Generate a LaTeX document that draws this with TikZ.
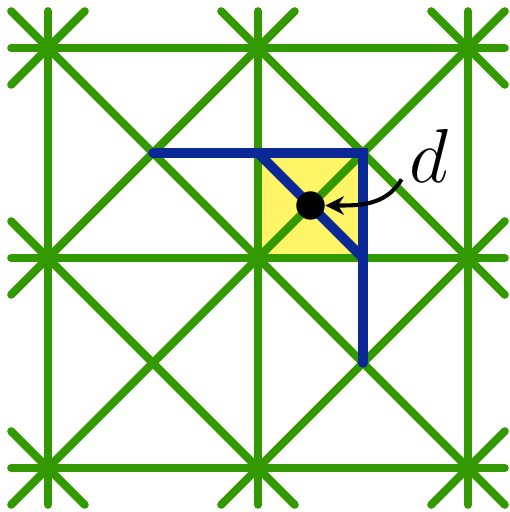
\documentclass[tikz,border=0pt]{standalone}
\usetikzlibrary{arrows.meta}
\definecolor{leaf}{RGB}{51,153,0}
\definecolor{navy}{RGB}{10,40,150}
\definecolor{lemon}{RGB}{255,245,102}
\begin{document}
\begin{tikzpicture}[
    lattice/.style={leaf, line width=2.2pt, line cap=round},
    route/.style={navy, line width=2.6pt, line cap=round, line join=miter}]
    \useasboundingbox (-0.457,-0.419) rectangle (4.4,4.457);
    \fill[lemon] (2,2) rectangle (3,3);
    \foreach \t in {0,2,4} {
        \draw[lattice] (\t,-0.35) -- (\t,4.35);
        \draw[lattice] (-0.35,\t) -- (4.35,\t);
    }
    \foreach \ax/\ay/\bx/\by in {-0.35/0.35/0.35/-0.35, -0.35/2.35/2.35/-0.35,
        -0.35/4.35/4.35/-0.35, 1.65/4.35/4.35/1.65, 3.65/4.35/4.35/3.65,
        3.65/-0.35/4.35/0.35, 1.65/-0.35/4.35/2.35, -0.35/-0.35/4.35/4.35,
        -0.35/1.65/2.35/4.35, -0.35/3.65/0.35/4.35}
        \draw[lattice] (\ax,\ay) -- (\bx,\by);
    \draw[route] (1,3) -- (3,3) -- (3,1);
    \draw[route] (2,3) -- (3,2);
    \node[circle, fill=black, inner sep=0pt, minimum size=0.27cm] (pt) at (2.5,2.5) {};
    \node[inner sep=2pt, font=\fontsize{21.5}{24}\selectfont] (lbl) at (3.63,2.97) {$d$};
    \draw[-{Stealth[length=5pt,width=5pt]}, line width=1.1pt] (lbl.220) to[out=240, in=0] (pt.east);
\end{tikzpicture}
\end{document}
